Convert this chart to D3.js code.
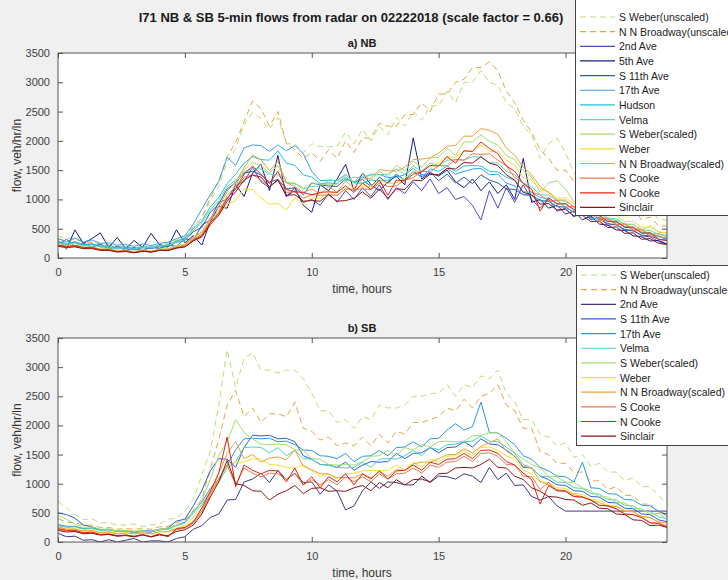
<!DOCTYPE html>
<html>
<head>
<meta charset="utf-8">
<script src="https://cdn.jsdelivr.net/npm/d3@7"></script>
<style>
  body { margin: 0; background: #f0f0f0; }
  svg { display: block; font-family: "Liberation Sans", Arial, sans-serif; }
</style>
</head>
<body>
<div id="chart"></div>
<script>
// samples every 20 minutes, 0..24 h (3 per hour, last one at 24 h)
const stepMinutes = 20;
const xTicks = [0, 5, 10, 15, 20];
const yTicks = [0, 500, 1000, 1500, 2000, 2500, 3000, 3500];

// ---- NB ----
const nbSWeberUnscaled = [380,320,370, 290,290,240, 240,200,200, 170,210,180, 230,250,310, 370,540,680, 980,1220,1640, 1870,2280,2480, 2380,2200,2400, 1950,1950,1800, 1950,1900,1900, 1900,2150,1950, 2200,2000,2250, 2100,2400,2250, 2500,2350,2600, 2600,2850,2650, 3000,3000,3200, 3000,2950,2650, 2550,2250,2100, 1700,1950,2050, 1800,1450,1350, 1150,1150,1000, 1000,850,900, 700,850,650, 650];
const nbNNBroadwayUnscaled = [330,290,320, 270,270,230, 220,190,190, 160,200,170, 210,230,290, 340,520,680, 1030,1320,1730, 1970,2330,2680, 2550,2250,2500, 1950,1850,1700, 1800,1650,1850, 1700,2000,1800, 2050,2050,2300, 2250,2250,2450, 2450,2650,2500, 2800,2800,3000, 3050,3250,3250, 3350,3200,2850, 2650,2350,2150, 1850,1700,1500, 1500,1300,1250, 1050,1050,900, 950,800,850, 650,700,550, 550];
const nb2ndAve = [230,320,200, 260,180,240, 150,200,130, 180,120,190, 160,220,200, 330,300,560, 650,950,1000, 1250,1300,1550, 1300,1200,1350, 1050,1150,950, 1000,900,1100, 950,1150,1000, 1200,1050,1250, 1000,1200,1100, 1300,1150,1350, 1100,1200,1000, 1050,900,650, 1150,850,1200, 950,1250,1000, 850,1000,800, 850,700,820, 650,700,560, 580,470,480, 380,360,280, 230];
const nb5thAve = [300,150,480, 250,330,430, 180,350,160, 300,180,420, 230,190,480, 260,380,220, 620,880,850, 1250,1050,1450, 1600,1150,1750, 1050,1200,900, 780,1250,1150, 1350,1600,1150, 1450,1250,1150, 1300,1400,1250, 2050,1350,1450, 1400,1500,1300, 1200,1350,1150, 1300,1100,1250, 1000,1700,950, 1000,850,900, 750,800,650, 720,580,560, 480,470,380, 360,290,300, 240];
const nbS11thAve = [280,230,270, 220,240,190, 190,160,170, 140,175,160, 190,190,270, 300,450,520, 780,920,1180, 1280,1450,1480, 1420,1300,1340, 1180,1200,1080, 1280,1250,1230, 1220,1350,1300, 1340,1220,1380, 1270,1430,1330, 1480,1380,1470, 1320,1430,1280, 1380,1270,1420, 1330,1280,1180, 1170,1080,1070, 980,970,880, 870,780,770, 690,660,590, 560,490,460, 390,380,320, 300];
const nb17thAve = [330,280,340, 270,310,250, 260,220,230, 200,240,210, 250,270,330, 380,580,830, 1080,1300,1720, 1580,1880,1930, 1920,1820,1930, 1830,1920,1780, 1480,1320,1330, 1320,1430,1280, 1380,1420,1430, 1370,1380,1420, 1530,1420,1430, 1420,1530,1430, 1480,1520,1530, 1420,1430,1280, 1230,1080,1070, 980,970,880, 870,780,770, 680,670,630, 610,540,510, 440,430,370, 340];
const nbHudson = [280,250,280, 230,240,210, 210,180,190, 160,190,180, 210,220,290, 340,500,630, 870,1030,1270, 1430,1620,1730, 1680,1670,1830, 1620,1580,1420, 1380,1270,1280, 1270,1380,1280, 1280,1330,1320, 1330,1420,1330, 1470,1380,1520, 1480,1570,1480, 1570,1580,1570, 1480,1470,1380, 1320,1130,1120, 1030,1020,930, 920,830,820, 730,720,630, 620,530,520, 440,410,360, 330];
const nbVelma = [260,230,260, 210,220,190, 190,160,170, 150,180,170, 200,210,270, 310,470,600, 820,980,1220, 1330,1470,1530, 1520,1430,1420, 1280,1270,1180, 1220,1230,1320, 1330,1320,1380, 1370,1430,1420, 1430,1520,1430, 1570,1480,1620, 1580,1670,1680, 1670,1730,1720, 1630,1620,1480, 1420,1280,1220, 1080,1070,980, 970,880,870, 780,770,680, 670,580,570, 480,470,400, 390];
const nbSWeberScaled = [250,210,250, 190,195,155, 160,130,135, 110,140,120, 155,160,210, 240,360,440, 650,810,1070, 1230,1500,1630, 1580,1450,1580, 1290,1280,1190, 1280,1260,1250, 1260,1420,1290, 1450,1320,1480, 1390,1580,1490, 1650,1550,1710, 1720,1880,1750, 1980,1980,2100, 1990,1930,1750, 1680,1490,1380, 1120,1280,1320, 1180,960,890, 760,760,660, 650,570,580, 480,550,440, 430];
const nbWeber = [200,170,200, 160,170,140, 140,110,120, 90,130,100, 140,140,190, 230,340,410, 620,730,920, 980,1180,1170, 1030,920,930, 820,1030,920, 1030,1020,1130, 1070,1180,1170, 1230,1220,1330, 1270,1280,1370, 1480,1470,1580, 1620,1730,1720, 1830,1820,1930, 1820,1830,1670, 1580,1370,1330, 1170,1130,1020, 1030,920,930, 820,830,720, 730,620,630, 520,530,450, 430];
const nbNNBroadwayScaled = [220,190,215, 175,180,150, 150,120,130, 100,135,110, 140,150,195, 220,350,440, 680,870,1140, 1300,1540,1760, 1680,1490,1650, 1290,1220,1120, 1180,1090,1220, 1120,1320,1190, 1350,1360,1510, 1490,1480,1550, 1680,1690,1710, 1790,1910,1920, 2080,2080,2210, 2180,2110,1880, 1750,1550,1420, 1220,1120,990, 990,860,820, 760,630,660, 560,590,500, 490,400,420, 360];
const nbSCooke = [210,190,200, 170,170,140, 140,110,120, 90,120,110, 140,140,180, 210,320,400, 620,780,1030, 1170,1380,1420, 1330,1220,1330, 1120,1130,1020, 1080,1070,1080, 1070,1180,1170, 1180,1170,1280, 1220,1230,1330, 1370,1480,1470, 1580,1570,1680, 1670,1780,1770, 1780,1670,1580, 1370,1280,1120, 1080,970,980, 870,880,770, 780,670,680, 570,580,470, 480,370,380, 300];
const nbNCooke = [220,200,210, 180,180,140, 140,110,120, 90,120,100, 130,130,170, 190,300,380, 600,760,1020, 1180,1430,1570, 1430,1270,1480, 1170,1130,1120, 1080,1120,1130, 1120,1230,1120, 1280,1170,1330, 1070,1330,1320, 1430,1470,1580, 1570,1730,1620, 1830,1820,1980, 1870,1780,1570, 1480,1270,1180, 800,1030,920, 930,820,830, 720,730,620, 630,520,530, 420,430,320, 300];
const nbSinclair = [200,180,190, 160,160,130, 130,100,110, 90,115,100, 130,125,170, 190,290,360, 570,730,970, 1130,1330,1420, 1380,1220,1330, 1070,1080,970, 980,970,1080, 970,980,1020, 1130,1020,1180, 1020,1180,1170, 1330,1320,1430, 1420,1530,1520, 1630,1620,1730, 1620,1580,1420, 1330,1120,1080, 920,930,820, 830,720,730, 620,630,520, 530,420,430, 320,330,250, 230];

// ---- SB ----
const sbSWeberUnscaled = [700,580,470, 380,400,330, 330,290,290, 310,260,290, 310,390,410, 520,730,1150, 1550,2350,3300, 2650,3150,3250, 2950,2950,2900, 2950,2950,2800, 2550,2250,2250, 2050,2100,1950, 2150,2100,2350, 2300,2300,2350, 2500,2500,2550, 2550,2700,2500, 2700,2650,2850, 2800,2950,2550, 2400,2100,2100, 1850,1800,1650, 1700,1450,1500, 1300,1350,1200, 1200,1050,1100, 950,950,800, 650];
const sbNNBroadwayUnscaled = [400,340,330, 290,290,250, 250,220,230, 220,230,220, 260,270,330, 370,540,730, 1250,1750,2350, 2600,2150,2300, 2050,2200,2200, 2150,2400,1950, 1900,1750,1800, 1650,1700,1650, 1800,1650,1850, 1700,1900,1850, 2050,2050,2100, 2150,2300,2250, 2450,2300,2500, 2550,2700,2350, 2250,1950,1950, 1550,1500,1350, 1350,1200,1200, 1050,1050,900, 950,800,800, 650,650,500, 500];
const sb2ndAve = [150,90,100, 30,40,0, 40,0,30, 60,0,20, 20,0,60, 90,220,280, 420,480,720, 730,1030,1080, 1180,1020,1230, 1070,1180,1020, 1030,820,980, 870,550,620, 880,1030,920, 1030,1020,980, 980,1130,1020, 1130,1120,1080, 1170,1130,1020, 1280,1070,1180, 970,980,780, 720,780,620, 530,530,530, 530,530,530, 530,530,530, 530,530,530, 530];
const sbS11thAve = [500,470,410, 290,260,210, 210,180,190, 160,170,170, 210,240,360, 390,620,880, 1220,1430,1420, 1280,1620,1830, 1820,1830,1770, 1780,1720,1480, 1420,1330,1320, 1280,1370,1230, 1320,1380,1370, 1380,1520,1430, 1520,1530,1620, 1530,1620,1630, 1720,1630,1770, 1680,1670,1580, 1470,1280,1270, 1130,1070,980, 970,880,870, 780,770,680, 670,580,570, 480,470,380, 350];
const sb17thAve = [300,270,270, 230,240,210, 220,190,200, 170,200,190, 220,230,290, 340,520,680, 920,1080,1320, 1580,1770,1780, 1770,1780,1720, 1730,1670,1580, 1570,1480,1470, 1430,1520,1380, 1470,1480,1570, 1480,1620,1630, 1720,1630,1770, 1780,1920,2030, 1920,1980,2400, 1880,1870,1780, 1670,1480,1420, 1280,1220,1130, 1120,1030,1370, 930,920,830, 820,730,720, 630,620,530, 450];
const sbVelma = [280,250,260, 220,230,200, 210,180,190, 160,190,180, 210,220,280, 320,500,630, 870,1030,1270, 1380,1620,1630, 1620,1530,1620, 1480,1570,1430, 1420,1330,1320, 1280,1270,1280, 1370,1280,1420, 1430,1420,1480, 1570,1480,1620, 1580,1670,1680, 1720,1730,1820, 1730,1720,1630, 1520,1330,1270, 1130,1120,1030, 1020,930,920, 830,820,730, 720,630,620, 530,520,430, 400];
const sbSWeberScaled = [460,390,310, 250,260,220, 220,190,195, 190,190,175, 220,240,290, 320,520,710, 1070,1480,1720, 2100,1880,1770, 1680,1670,1680, 1670,1580,1570, 1430,1420,1330, 1320,1330,1320, 1380,1470,1480, 1570,1480,1620, 1580,1670,1630, 1720,1730,1720, 1730,1820,1830, 1870,1880,1720, 1530,1420,1330, 1270,1130,1120, 1030,1020,930, 870,780,770, 680,670,580, 570,480,490, 400];
const sbWeber = [250,220,230, 190,200,170, 180,150,160, 140,170,140, 180,180,240, 270,420,580, 870,1080,1320, 1380,1370,1430, 1420,1330,1320, 1280,1270,1330, 1220,1130,1170, 1080,1170,1180, 1220,1230,1220, 1230,1320,1230, 1370,1280,1420, 1380,1470,1480, 1570,1480,1620, 1630,1570,1480, 1420,1230,1170, 1030,1020,930, 920,830,820, 730,720,630, 620,530,520, 430,420,350, 330];
const sbNNBroadwayScaled = [265,220,220, 190,195,160, 170,140,155, 140,155,140, 175,175,220, 240,360,480, 820,1180,1520, 1720,1430,1500, 1370,1440,1460, 1410,1580,1300, 1240,1170,1170, 1100,1110,1100, 1170,1100,1210, 1130,1240,1230, 1340,1370,1370, 1430,1500,1500, 1600,1530,1640, 1700,1770,1560, 1470,1300,1270, 1040,980,900, 880,810,780, 710,680,610, 610,540,520, 440,420,340, 330];
const sbSCooke = [220,190,190, 150,160,120, 130,100,120, 90,120,90, 130,90,210, 240,320,530, 820,1080,1320, 980,1270,1180, 1120,1180,1170, 1080,1170,980, 1070,980,1070, 980,1120,1030, 1120,1030,1170, 1080,1170,1180, 1270,1180,1320, 1280,1370,1380, 1470,1380,1520, 1530,1470,1330, 1320,1130,1120, 900,1020,880, 870,780,770, 720,630,620, 570,480,470, 420,330,320, 280];
const sbNCooke = [230,200,200, 160,170,130, 140,110,120, 100,130,90, 140,90,230, 250,340,580, 870,1180,1800, 950,1320,1230, 1170,1230,1220, 1030,1270,980, 1120,930,1120, 1030,1170,980, 1170,1080,1220, 1080,1220,1230, 1320,1230,1370, 1330,1420,1430, 1520,1430,1570, 1580,1520,1380, 1320,1180,1070, 650,970,880, 870,780,770, 720,630,620, 570,480,470, 420,330,320, 250];
const sbSinclair = [200,170,180, 140,150,120, 130,100,110, 90,120,90, 120,110,180, 210,290,480, 770,1030,1400, 1000,970,880, 870,720,820, 880,970,830, 920,930,870, 880,870,930, 970,880,1020, 930,1070,980, 1070,1080,1030, 1170,1180,1270, 1280,1270,1330, 1420,1280,1270, 1130,1070,930, 870,780,770, 730,720,630, 670,580,570, 480,470,380, 370,280,290, 250];

const nbSeries = [
  { name: 'S Weber(unscaled)', values: nbSWeberUnscaled, dashed: true },
  { name: 'N N Broadway(unscaled)', values: nbNNBroadwayUnscaled, dashed: true },
  { name: '2nd Ave', values: nb2ndAve },
  { name: '5th Ave', values: nb5thAve },
  { name: 'S 11th Ave', values: nbS11thAve },
  { name: '17th Ave', values: nb17thAve },
  { name: 'Hudson', values: nbHudson },
  { name: 'Velma', values: nbVelma },
  { name: 'S Weber(scaled)', values: nbSWeberScaled },
  { name: 'Weber', values: nbWeber },
  { name: 'N N Broadway(scaled)', values: nbNNBroadwayScaled },
  { name: 'S Cooke', values: nbSCooke },
  { name: 'N Cooke', values: nbNCooke },
  { name: 'Sinclair', values: nbSinclair }
];
const sbSeries = [
  { name: 'S Weber(unscaled)', values: sbSWeberUnscaled, dashed: true },
  { name: 'N N Broadway(unscaled)', values: sbNNBroadwayUnscaled, dashed: true },
  { name: '2nd Ave', values: sb2ndAve },
  { name: 'S 11th Ave', values: sbS11thAve },
  { name: '17th Ave', values: sb17thAve },
  { name: 'Velma', values: sbVelma },
  { name: 'S Weber(scaled)', values: sbSWeberScaled },
  { name: 'Weber', values: sbWeber },
  { name: 'N N Broadway(scaled)', values: sbNNBroadwayScaled },
  { name: 'S Cooke', values: sbSCooke },
  { name: 'N Cooke', values: sbNCooke },
  { name: 'Sinclair', values: sbSinclair }
];

const nbColors = {
  'S Weber(unscaled)': '#b8e07a', 'N N Broadway(unscaled)': '#e6a53c',
  '2nd Ave': '#4c4cc0', '5th Ave': '#1a1a8a', 'S 11th Ave': '#2e5ea8', '17th Ave': '#3a9ee8',
  'Hudson': '#1ec6d8', 'Velma': '#5ad6c4', 'S Weber(scaled)': '#a6de6c', 'Weber': '#f2e22c',
  'N N Broadway(scaled)': '#eaa23c', 'S Cooke': '#f07a4a', 'N Cooke': '#e02616', 'Sinclair': '#8e1616'
};
const sbColors = {
  'S Weber(unscaled)': '#b8e07a', 'N N Broadway(unscaled)': '#e6a53c',
  '2nd Ave': '#3a3a86', 'S 11th Ave': '#2a5ee0', '17th Ave': '#2a98e0', 'Velma': '#48d4c0',
  'S Weber(scaled)': '#a6de6c', 'Weber': '#f2e22c', 'N N Broadway(scaled)': '#eaa23c',
  'S Cooke': '#f07a4a', 'N Cooke': '#e02616', 'Sinclair': '#8e1616'
};

const W = 728, H = 580;
const svg = d3.select('#chart').append('svg').attr('width', W).attr('height', H);
svg.append('rect').attr('width', W).attr('height', H).attr('fill', '#f0f0f0');

svg.append('text')
  .attr('x', 351).attr('y', 22)
  .attr('text-anchor', 'middle')
  .attr('font-size', 13).attr('font-weight', 'bold').attr('fill', '#1a1a1a')
  .text('I71 NB & SB 5-min flows from radar on 02222018 (scale factor = 0.66)');

function drawPanel(opts) {
  const series = opts.series, colors = opts.colors;
  const x = d3.scaleLinear().domain([0, 24]).range([58, 667]);
  const y = d3.scaleLinear().domain([0, 3500]).range([opts.bottom, opts.top]);
  const g = svg.append('g');

  g.append('rect')
    .attr('x', 58).attr('y', opts.top)
    .attr('width', 609).attr('height', opts.bottom - opts.top)
    .attr('fill', '#fff');

  const clipId = 'clip-' + opts.id;
  g.append('clipPath').attr('id', clipId)
    .append('rect')
    .attr('x', 58).attr('y', opts.top)
    .attr('width', 609).attr('height', opts.bottom - opts.top);

  const line = d3.line()
    .x((d, i) => x(i * stepMinutes / 60))
    .y(d => y(d));

  g.append('g').attr('clip-path', 'url(#' + clipId + ')')
    .selectAll('path')
    .data(series)
    .join('path')
    .attr('d', d => line(d.values))
    .attr('fill', 'none')
    .attr('stroke', d => colors[d.name])
    .attr('stroke-width', 1)
    .attr('stroke-dasharray', d => d.dashed ? '6,4' : null);

  // axes, ticks pointing inward on all four sides
  const axisColor = '#555';
  const styleAxis = sel => {
    sel.select('.domain').remove();
    sel.selectAll('line').attr('stroke', axisColor);
    sel.selectAll('text').attr('fill', '#404040').attr('font-size', 11)
      .attr('font-family', '"Liberation Sans", Arial, sans-serif');
  };
  g.append('g').attr('transform', 'translate(0,' + opts.bottom + ')')
    .call(d3.axisBottom(x).tickValues(xTicks).tickSize(-5).tickPadding(10).tickFormat(d3.format('d')))
    .call(styleAxis);
  g.append('g').attr('transform', 'translate(0,' + opts.top + ')')
    .call(d3.axisTop(x).tickValues(xTicks).tickSize(-5).tickFormat(''))
    .call(styleAxis);
  g.append('g').attr('transform', 'translate(58,0)')
    .call(d3.axisLeft(y).tickValues(yTicks).tickSize(-5).tickPadding(8).tickFormat(d3.format('d')))
    .call(styleAxis);
  g.append('g').attr('transform', 'translate(667,0)')
    .call(d3.axisRight(y).tickValues(yTicks).tickSize(-5).tickFormat(''))
    .call(styleAxis);

  g.append('rect')
    .attr('x', 58).attr('y', opts.top)
    .attr('width', 609).attr('height', opts.bottom - opts.top)
    .attr('fill', 'none').attr('stroke', axisColor).attr('stroke-width', 1);

  g.append('text')
    .attr('x', 362).attr('y', opts.top - 6)
    .attr('text-anchor', 'middle').attr('font-size', 11).attr('font-weight', 'bold')
    .attr('fill', '#1a1a1a')
    .text(opts.title);

  g.append('text')
    .attr('x', 362).attr('y', opts.bottom + 35)
    .attr('text-anchor', 'middle').attr('font-size', 12).attr('fill', '#333')
    .text('time, hours');

  g.append('text')
    .attr('transform', 'translate(21,' + (opts.top + opts.bottom) / 2 + ') rotate(-90)')
    .attr('text-anchor', 'middle').attr('font-size', 12).attr('fill', '#333')
    .text('flow, veh/hr/ln');

  // legend
  const lg = svg.append('g').attr('transform', 'translate(' + opts.legendX + ',' + opts.legendY + ')');
  const rowH = 14.65;
  lg.append('rect')
    .attr('x', 0.5).attr('y', 0.5)
    .attr('width', 170).attr('height', opts.legendH)
    .attr('fill', '#fff').attr('stroke', '#444').attr('stroke-width', 1);
  const rows = lg.selectAll('g.row').data(series).join('g')
    .attr('class', 'row')
    .attr('transform', (d, i) => 'translate(0,' + (opts.firstRow + i * rowH) + ')');
  rows.append('line')
    .attr('x1', 5).attr('x2', 40).attr('y1', 0).attr('y2', 0)
    .attr('stroke', d => colors[d.name]).attr('stroke-width', 1.2)
    .attr('stroke-dasharray', d => d.dashed ? '6,4' : null);
  rows.append('text')
    .attr('x', 44).attr('y', 4)
    .attr('font-size', 10.5).attr('fill', '#222')
    .text(d => d.name);
}

drawPanel({ id: 'nb', series: nbSeries, colors: nbColors, top: 53, bottom: 258,
  title: 'a) NB', legendX: 575, legendY: -1, legendH: 216, firstRow: 18 });
drawPanel({ id: 'sb', series: sbSeries, colors: sbColors, top: 338, bottom: 542,
  title: 'b) SB', legendX: 576, legendY: 265, legendH: 180, firstRow: 10 });
</script>
</body>
</html>
